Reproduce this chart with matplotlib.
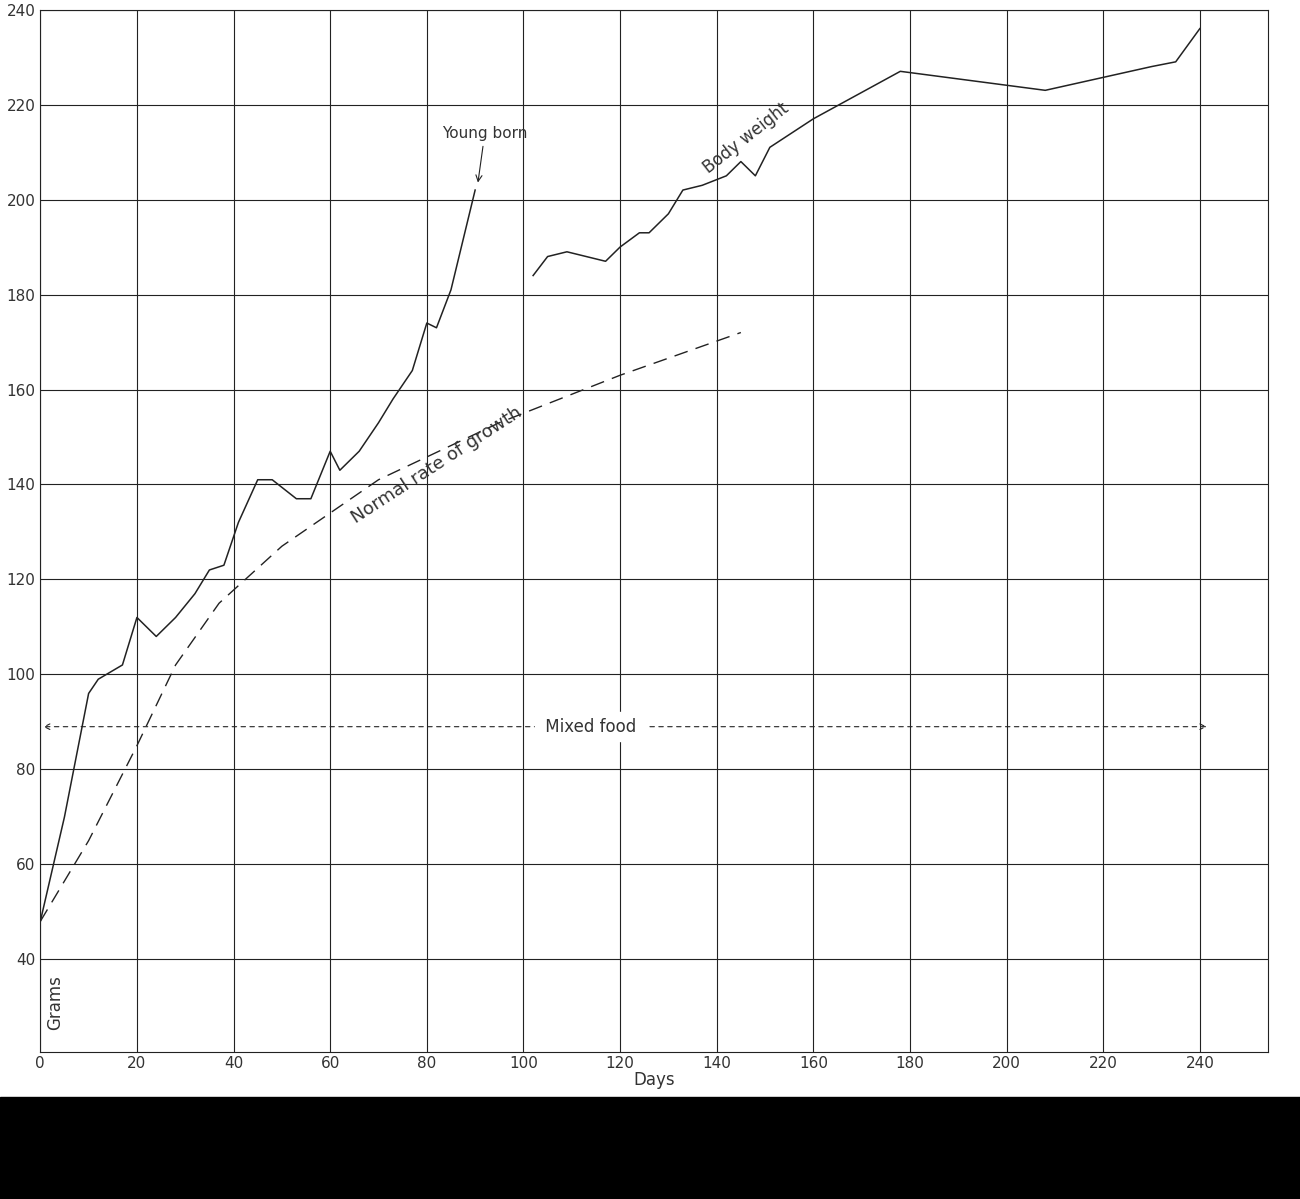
import matplotlib.pyplot as plt
from matplotlib.patches import Rectangle

# body weight before young born
days_a = [0, 5, 10, 12, 17, 20, 24, 28, 32, 35, 38, 41, 45, 48, 53, 56, 60, 62, 66, 70, 73, 77, 80, 82, 85, 90]
grams_a = [48, 70, 96, 99, 102, 112, 108, 112, 117, 122, 123, 132, 141, 141, 137, 137, 147, 143, 147, 153, 158, 164, 174, 173, 181, 202]
# body weight after
days_b = [102, 105, 109, 117, 120, 124, 126, 130, 133, 137, 142, 145, 148, 151, 160, 178, 208, 230, 235, 240]
grams_b = [184, 188, 189, 187, 190, 193, 193, 197, 202, 203, 205, 208, 205, 211, 217, 227, 223, 228, 229, 236]
# normal rate of growth
days_n = [0, 10, 20, 28, 37, 50, 70, 95, 120, 145]
grams_n = [48, 65, 85, 102, 115, 127, 141, 153, 163, 172]

fig = plt.figure(figsize=(13, 11.99), dpi=100)
ax = fig.add_axes([0.031, 0.123, 0.944, 0.869])
ax.plot(days_a, grams_a, color='#222', lw=1.1)
ax.plot(days_b, grams_b, color='#222', lw=1.1)
ax.plot(days_n, grams_n, color='#222', lw=1.0, dashes=(10, 6))

ax.set_xlim(0, 254)
ax.set_ylim(20.6, 240)
ax.set_xticks(range(0, 260, 20))
ax.set_yticks(range(40, 241, 20))
ax.grid(True, color='#222', lw=0.8)
ax.tick_params(length=0, labelsize=11, colors='#333')
for s in ax.spines.values():
    s.set_color('#222')

ax.annotate('', xy=(0, 89), xytext=(242, 89),
            arrowprops=dict(arrowstyle='<->', color='#222', lw=0.8, linestyle=(0, (4, 4))))
ax.text(114, 89, ' Mixed food ', ha='center', va='center', fontsize=12,
        color='#333', backgroundcolor='white')
ax.annotate('Young born', xy=(90.5, 203), xytext=(92, 213), ha='center', fontsize=11,
            color='#333', arrowprops=dict(arrowstyle='->', color='#222', lw=0.8))
ax.text(146, 213, 'Body weight', rotation=38, fontsize=12, color='#333', ha='center', va='center')
ax.text(82, 144, 'Normal rate of growth', rotation=33, fontsize=13, color='#333', ha='center', va='center')
ax.text(3, 31, 'Grams', rotation=90, fontsize=12, color='#333', ha='center', va='center')
ax.set_xlabel('Days', fontsize=12, color='#333', labelpad=0)

fig.patches.append(Rectangle((0, 0), 1, 0.085, transform=fig.transFigure, color='black'))
fig.savefig('out.png', dpi=100)
